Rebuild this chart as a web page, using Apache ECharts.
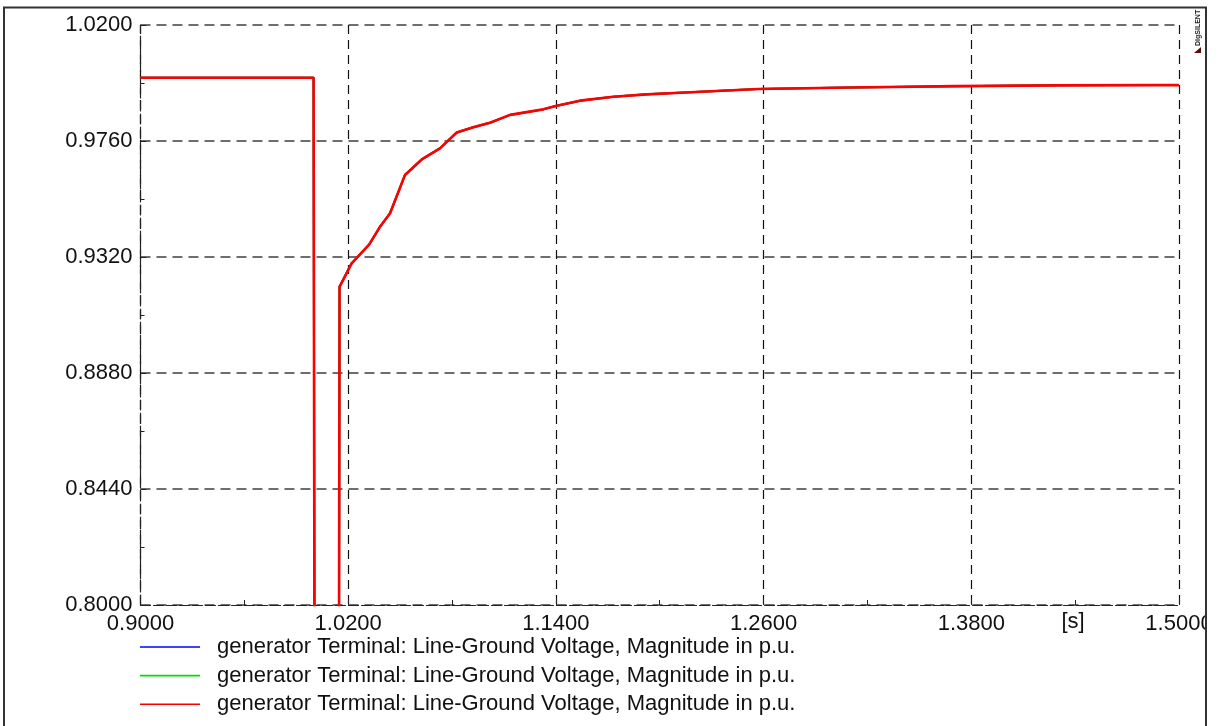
<!DOCTYPE html>
<html>
<head>
<meta charset="utf-8">
<script src="https://cdn.jsdelivr.net/npm/echarts@6/dist/echarts.min.js"></script>
<style>
  html, body { margin: 0; padding: 0; background: #ffffff; }
  #chart { width: 1219px; height: 726px; }
</style>
</head>
<body>
<div id="chart"></div>
<script>
// ---- data ----
var times = [0.9, 1.0, 1.0012, 1.0140, 1.0150, 1.0220, 1.0322, 1.0384, 1.0442, 1.0528,
             1.0625, 1.0730, 1.0827, 1.0923, 1.1019, 1.1135, 1.1327, 1.1399, 1.1539, 1.1732,
             1.1925, 1.2117, 1.2569, 1.3100, 1.3706, 1.4300, 1.4842, 1.5];
var voltageA = [1.0, 1.0, 0.5, 0.5, 0.9207, 0.9296, 0.9368, 0.9435, 0.9486, 0.9631,
                0.9690, 0.9732, 0.9792, 0.9812, 0.9829, 0.9859, 0.9880, 0.9893, 0.9913, 0.9928,
                0.9937, 0.9943, 0.9957, 0.9963, 0.9968, 0.9971, 0.9972, 0.9972];
var voltageB = voltageA.slice();
var voltageC = voltageA.slice();
var seriesNames = [
  'generator Terminal: Line-Ground Voltage, Magnitude in p.u.',
  'generator Terminal: Line-Ground Voltage, Magnitude in p.u. ',
  'generator Terminal: Line-Ground Voltage, Magnitude in p.u.  '
];
var seriesColors = ['#0000ff', '#00dd00', '#ff0000'];
var xMin = 0.9, xMax = 1.5, xStep = 0.12;
var yMin = 0.8, yMax = 1.02, yStep = 0.044;
var xUnit = '[s]';
var brand = 'DIgSILENT';

function pairs(xs, ys) { return xs.map(function (x, i) { return [x, ys[i]]; }); }

var FONT = '"Liberation Sans", Arial, sans-serif';
var FS = 22;
var chart = echarts.init(document.getElementById('chart'), null, { renderer: 'canvas' });

var allData = [voltageA, voltageB, voltageC];
var series = allData.map(function (vals, i) {
  return {
    name: seriesNames[i],
    type: 'line',
    data: pairs(times, vals),
    showSymbol: false,
    symbol: 'none',
    clip: true,
    lineStyle: { color: seriesColors[i], width: i === 2 ? 2.6 : 2 },
    itemStyle: { color: seriesColors[i] },
    z: 3 + i
  };
});

chart.setOption({
  animation: false,
  backgroundColor: '#ffffff',
  grid: { left: 140.5, right: 40, top: 25, bottom: 121, containLabel: false },
  xAxis: {
    type: 'value',
    min: xMin, max: xMax, interval: xStep,
    axisLine: { show: true, lineStyle: { color: '#222', width: 1.2, type: [10, 3] } },
    axisTick: { show: true, inside: true, length: 6, lineStyle: { color: '#222' } },
    minorTick: { show: true, splitNumber: 2, length: 5, lineStyle: { color: '#222' } },
    splitLine: { show: true, lineStyle: { color: '#111', width: 1.2, type: [9, 6] } },
    axisLabel: {
      margin: 8, color: '#111', fontFamily: FONT, fontSize: FS,
      formatter: function (v) { return v.toFixed(4); }
    }
  },
  yAxis: {
    type: 'value',
    min: yMin, max: yMax, interval: yStep,
    axisLine: { show: true, lineStyle: { color: '#222', width: 1.2, type: [10, 3] } },
    axisTick: { show: true, inside: true, length: 6, lineStyle: { color: '#222' } },
    minorTick: { show: true, splitNumber: 2, length: 4, lineStyle: { color: '#222' } },
    splitLine: { show: true, lineStyle: { color: '#6e6e6e', width: 1.8, type: [10, 6] } },
    axisLabel: {
      margin: 8, color: '#111', fontFamily: FONT, fontSize: FS,
      formatter: function (v) { return v.toFixed(4); }
    }
  },
  legend: {
    orient: 'vertical',
    left: 140,
    top: 636,
    padding: 0,
    itemWidth: 60,
    itemHeight: 1.6,
    itemGap: 6.6,
    icon: 'rect',
    selectedMode: false,
    data: seriesNames.map(function (n, i) {
      return { name: n, itemStyle: { color: seriesColors[i] } };
    }),
    textStyle: {
      color: '#111', fontFamily: FONT, fontSize: FS, lineHeight: 22,
      padding: [0, 0, 0, 12]
    }
  },
  graphic: [
    {
      type: 'rect', z: 100, silent: true,
      shape: { x: 1207, y: 590, width: 12, height: 60 },
      style: { fill: '#ffffff' }
    },
    {
      type: 'rect', z: 101, silent: true,
      shape: { x: 4, y: 7.5, width: 1202, height: 730 },
      style: { fill: 'none', stroke: '#333', lineWidth: 2 }
    },
    {
      type: 'text', z: 101, silent: true,
      x: 1073, y: 622,
      style: {
        text: xUnit, fill: '#111', font: FS + 'px ' + FONT,
        textAlign: 'center', textVerticalAlign: 'middle'
      }
    },
    {
      type: 'text', z: 101, silent: true,
      x: 1198, y: 46, rotation: Math.PI / 2,
      style: {
        text: brand, fill: '#222', font: 'bold 7px ' + FONT,
        textAlign: 'left', textVerticalAlign: 'middle'
      }
    },
    {
      type: 'polygon', z: 101, silent: true,
      shape: { points: [[1194, 53], [1201, 47], [1201, 53]] },
      style: { fill: '#5a0a0a' }
    }
  ],
  series: series
});
</script>
</body>
</html>
